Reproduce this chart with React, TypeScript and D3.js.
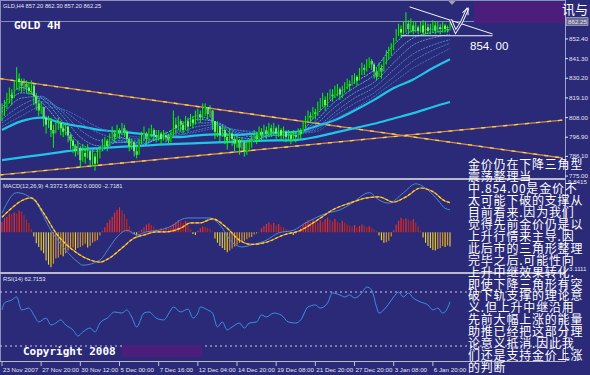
import React from 'react';
import * as d3 from 'd3';

// ---- price bars (GOLD H4), one entry per bar ----
const firstOpen = 808;
const closes = [
  810, 814, 818, 821, 819, 825, 830, 828, 826, 827,
  825, 823, 826, 820, 816, 812, 814, 808, 804, 806,
  801, 799, 803, 805, 802, 800, 803, 798, 795, 792,
  789, 791, 784, 788, 786, 789, 784, 786, 782, 786,
  790, 793, 795, 792, 796, 799, 797, 801, 799, 802,
  800, 796, 792, 794, 789, 787, 793, 797, 799, 796,
  799, 801, 798, 797, 799, 796, 798, 797, 795, 798,
  804, 802, 806, 804, 801, 806, 803, 807, 805, 808,
  810, 808, 812, 814, 810, 812, 806, 800, 803, 798,
  801, 797, 795, 799, 796, 793, 795, 791, 794, 789,
  791, 793, 795, 798, 796, 800, 798, 801, 799, 802,
  800, 802, 799, 801, 798, 800, 797, 798, 796, 798,
  797, 800, 799, 803, 806, 809, 808, 811, 810, 814,
  816, 818, 815, 819, 821, 820, 822, 824, 821, 823,
  825, 827, 826, 829, 831, 829, 833, 836, 835, 838,
  840, 838, 834, 831, 836, 834, 839, 842, 845, 847,
  851, 855, 858, 856, 859, 861, 858, 860, 857, 859,
  857, 860, 856, 859, 857, 858, 860, 857, 859, 858,
  860, 858, 857.2, 862.25,
];
const highs = [
  816, 818, 822, 825, 824, 829, 836.5, 833, 830, 830,
  829, 828, 829, 827, 822, 818, 817, 813, 809, 809,
  808, 804, 806, 808, 806, 804, 805, 801, 799, 796,
  793, 795, 792, 793, 791, 793, 790, 790, 788, 790,
  792, 796, 797, 796, 799, 803, 801, 804, 802, 805,
  804, 801, 797, 796, 795, 792, 796, 800, 803, 800,
  802, 804, 802, 801, 801, 800, 801, 800, 799, 801,
  812, 808, 809, 807, 806, 809, 808, 810, 809, 812,
  813, 812, 816, 816, 814, 815, 812, 806, 806, 803,
  804, 802, 799, 802, 800, 797, 798, 796, 797, 794,
  795, 796, 798, 801, 800, 803, 802, 804, 803, 805,
  804, 805, 803, 804, 802, 803, 801, 801, 800, 801,
  800, 802, 802, 806, 809, 812, 811, 814, 813, 817,
  819, 822, 820, 822, 824, 824, 826, 827, 825, 826,
  828, 830, 829, 832, 833, 832, 836, 839, 838, 841,
  842, 841, 839, 836, 839, 838, 842, 846, 848, 850,
  853, 858, 861, 860, 862, 867.5, 863, 864, 862, 862,
  860, 862, 863, 862, 861, 861, 863, 862, 862, 861,
  862, 861, 860, 862.3,
];
const lows = [
  806, 809, 813, 816, 815, 819, 824, 823, 822, 823,
  822, 821, 821, 815, 812, 809, 810, 803, 799, 802,
  797, 791, 799, 801, 798, 797, 798, 794, 790, 788,
  786, 787, 780, 783, 782, 785, 780, 781, 778, 783,
  785, 789, 791, 789, 792, 795, 794, 797, 796, 798,
  797, 794, 789, 790, 786, 785, 787, 793, 795, 793,
  795, 797, 795, 794, 795, 793, 795, 794, 793, 794,
  797, 799, 801, 800, 799, 801, 800, 803, 802, 804,
  806, 805, 807, 809, 807, 808, 801, 796, 797, 794,
  797, 793, 790, 794, 792, 789, 791, 787, 790, 786,
  787, 789, 791, 794, 793, 795, 795, 797, 796, 798,
  797, 798, 796, 797, 795, 796, 794, 795, 793, 795,
  794, 796, 796, 799, 802, 805, 805, 807, 807, 809,
  812, 814, 812, 814, 818, 817, 819, 820, 818, 819,
  822, 824, 823, 826, 827, 826, 829, 832, 832, 834,
  836, 835, 830, 829, 831, 830, 834, 838, 841, 843,
  846, 851, 854, 853, 855, 856, 855, 856, 855, 856,
  855, 856, 854.5, 855, 855, 855, 856, 855, 856, 855,
  856, 856, 856, 857.2,
];

// ---- moving averages, read at every 8th bar ----
const maIdx = [0, 8, 16, 24, 32, 40, 48, 56, 64, 72, 80, 88, 96, 104, 112, 120, 128, 136, 144, 152, 160, 168, 176, 183];
const ma1 = [813, 825, 817, 804, 790, 789, 797, 792, 797, 803, 809, 804, 795, 796, 799, 798, 809, 820, 828, 835, 849, 857, 858, 859];
const ma2 = [811, 822, 819, 807, 793, 790, 795, 793, 796, 801, 807, 805, 797, 796, 798, 798, 806, 817, 825, 832, 844, 853, 856, 857];
const ma3 = [809, 819, 820, 810, 797, 792, 794, 794, 796, 800, 805, 805, 799, 797, 798, 798, 804, 814, 822, 828, 839, 849, 853, 855];
const ma4 = [807, 815, 819, 812, 801, 795, 794, 795, 796, 799, 803, 804, 800, 798, 798, 799, 802, 811, 819, 825, 835, 844, 849, 852];
const ma5 = [805, 812, 817, 813, 805, 799, 796, 796, 796, 798, 801, 803, 801, 799, 798, 799, 801, 809, 816, 822, 831, 840, 846, 850];
const ma6 = [803, 809, 814, 813, 808, 802, 799, 797, 797, 798, 800, 802, 801, 800, 799, 799, 800, 807, 813, 820, 828, 836, 842, 847];
const maSlow = [801, 806, 808, 805, 803, 801, 800, 799, 797.5, 797, 798, 798.5, 798.2, 799, 799.5, 800, 803, 806.6, 812, 818, 824.7, 829.5, 836, 841];
const maSlowest = [784, 785.5, 787, 788.5, 790, 790.8, 791.5, 792, 792.7, 793.2, 793.6, 794, 794.4, 794.8, 795.1, 795.3, 797, 799.5, 802, 804.5, 807.5, 810.5, 814, 816.8];

// ---- drawn objects (bar index, price) ----
const trendUpper = [[-1, 830], [229, 785.2]];
const trendLower = [[-1, 775.6], [229, 806.6]];
const triTop = [[166.5, 870.5], [200.4, 855.2]];
const triBase = [[163, 854.2], [200.4, 854.2]];
const arrowPts = [[183.2, 863.3], [185.3, 856.6], [187.7, 861.8], [190.3, 869.8]];

// ---- MACD(12,26,9) ----
const macdHist = [
  2.0, 2.7, 3.0, 3.6, 3.5, 3.8, 3.6, 4.2, 4.0, 3.3,
  2.5, 1.8, 0.6, -0.8, -2.1, -2.8, -3.5, -4.0, -5.4, -6.2,
  -6.7, -6.0, -5.0, -4.8, -4.3, -4.6, -4.0, -3.5, -3.2, -2.9,
  -3.4, -3.0, -2.8, -2.5, -2.2, -2.9, -2.6, -2.0, -1.7, -1.5,
  -0.6, 0.2, 1.0, 1.8, 2.4, 3.0, 3.8, 4.3, 4.8, 4.2,
  3.5, 2.6, 1.2, 0.4, -0.3, -0.6, 0.2, 0.5, 1.0, 1.5,
  1.7, 1.4, 1.1, 0.7, 0.5, 0.8, 0.6, 1.0, 0.7, 0.9,
  1.6, 2.0, 2.3, 2.1, 1.8, 2.2, 1.5, 0.6, -0.3, -0.5,
  0.3, 0.8, 1.1, 1.0, 0.9, 0.6, 0.2, -1.2, -2.0, -2.6,
  -3.0, -3.4, -3.8, -3.5, -3.1, -2.7, -2.4, -2.0, -1.8, -1.6,
  -1.3, -1.0, -0.9, -0.4, -0.2, 0.1, 0.8, 1.2, 1.6, 1.9,
  1.5, 1.8, 1.3, 1.6, 1.1, 1.0, 0.7, 0.3, -0.3, -0.5,
  -0.2, 0.2, 0.8, 1.5, 2.0, 2.3, 2.0, 2.4, 2.2, 1.9,
  2.3, 2.0, 2.5, 2.8, 2.4, 2.1, 2.6, 2.0, 1.8, 2.2,
  1.9, 1.5, 1.3, 1.1, 1.4, 1.0, 1.2, 1.5, 1.3, 1.0,
  1.2, 0.9, 0.6, 0.2, -0.6, -1.5, -2.0, -1.9, -1.6, -0.8,
  0.4, 1.5, 2.2, 2.8, 2.5, 2.7, 2.4, 2.2, 2.5, 1.9,
  1.2, 0.3, -1.0, -2.0, -2.6, -3.0, -3.4, -3.5, -3.2, -3.0,
  -2.6, -2.8, -2.5, -2.7181,
];
const macdIdx = [0, 6, 13, 20, 26, 31, 33, 40, 44, 47, 51, 55, 59, 64, 70, 73, 76, 81, 85, 89, 94, 98, 102, 108, 113, 119, 124, 133, 138, 143, 150, 154, 158, 164, 169, 174, 178, 181, 183];
const macdMain = [3.7, 7.6, 6.2, 0.4, -3.4, -5.7, -6.3, -5.3, -2.8, -0.9, 0.4, -0.5, 0.1, 0.4, 1.4, 2.4, 2.75, 2.75, 2.75, 1.4, -1.9, -2.8, -2.4, -1.5, -0.1, 0.4, 1.8, 3.7, 4.3, 5.6, 7.6, 6.2, 5.6, 7.6, 9.3, 8.1, 6.2, 4.6, 4.3372];
const signalIdx = [0, 12, 17, 22, 29, 36, 40, 44, 49, 54, 58, 63, 67, 73, 77, 81, 86, 92, 97, 102, 108, 115, 122, 129, 135, 142, 149, 154, 160, 165, 171, 176, 181, 183];
const macdSignal = [2.9, 6.6, 3.7, -0.1, -3.4, -5.3, -5.7, -4.9, -3.0, -1.1, -0.5, 0.1, 0.1, 0.8, 1.8, 1.8, 2.6, 0.8, -1.5, -2.3, -1.9, -0.5, 0.4, 2.4, 4.3, 5.6, 6.6, 6.8, 5.8, 6.8, 8.5, 7.8, 6.0, 5.6962];

// ---- RSI(14) ----
const rsiIdx = [0, 1, 4, 6, 8, 11, 13, 15, 18, 20, 22, 24, 26, 29, 31, 33, 36, 38, 40, 43, 46, 49, 51, 53, 55, 58, 60, 63, 66, 69, 70, 73, 76, 78, 80, 81, 84, 86, 88, 90, 92, 94, 97, 99, 101, 104, 106, 108, 111, 114, 117, 120, 122, 125, 128, 130, 133, 135, 138, 140, 142, 144, 147, 149, 151, 153, 154, 157, 160, 162, 164, 166, 168, 171, 174, 176, 178, 180, 182, 183];
const rsiVals = [56.7, 61.9, 64.1, 66.3, 56.7, 58.1, 53, 47.8, 50.7, 45.6, 47, 49.3, 45.6, 41.9, 37.4, 40.4, 43.3, 40.4, 47, 50.7, 55.2, 54.4, 56.7, 51.5, 44.1, 54.4, 55.2, 50.7, 49.3, 56.7, 58.9, 55.2, 57.4, 50.7, 54.4, 58.9, 56.7, 54.4, 44.1, 47.8, 41.9, 44.1, 47, 43.3, 47, 47.8, 53, 51.5, 54.4, 53, 47.8, 47, 49.3, 58.9, 60.4, 58.1, 61.9, 69.3, 67.8, 66.3, 67.8, 65.6, 69.3, 73.7, 71.5, 58.9, 54.4, 58.9, 66.3, 70, 66.3, 69.3, 65.6, 62.6, 60.4, 56.7, 58.1, 54.4, 58.1, 62.7];
const rsiLevels = [70, 30];

// ---- axes ----
const priceTicks = [852.4, 841.3, 830.2, 819.1, 808.0, 796.9, 786.1, 775.0];
const lastPrice = 862.25;
const timeLabels = ['23 Nov 2007', '27 Nov 20:00', '30 Nov 12:00', '5 Dec 00:00', '7 Dec 16:00', '12 Dec 04:00', '14 Dec 20:00', '19 Dec 08:00', '21 Dec 20:00', '27 Dec 20:00', '3 Jan 08:00', '6 Jan 20:00'];
const barsPerLabel = 16;

const noteLines = [
  '金价仍在下降三角型',
  '震荡整理当',
  '中.854.00是金价不',
  '太可能下破的支撑从',
  '目前看来.因为我们',
  '觉得先前金价仍是以',
  '上升行情来主导.因',
  '此后市的三角形整理',
  '完毕之后.可能性向',
  '上升中继效果转化.',
  '即使下降三角形有突',
  '破下轨支撑的理论意',
  '义.但上升中继沿用',
  '先前大幅上涨的能量',
  '助推已经把这部分理',
  '论意义抵消.因此我',
  '们还是支持金价上涨',
  '的判断',
];

const BG = '#2a2a79';
const SEP = '#b9b9cc';
const AXIS_TXT = '#e4e4ee';
const small = { fontFamily: "'Liberation Sans', Arial, sans-serif", fontSize: 6.2, fill: AXIS_TXT };

export default function App() {
  const W = 590;
  const H = 375;
  const plotR = 565;

  const x = d3.scaleLinear().domain([0, 183]).range([2, 450]);
  const yP = d3.scaleLinear().domain([773.9, 872.7]).range([178, 3]);
  const yM = d3.scaleLinear().domain([-7.6, 9.8415]).range([272, 181]);
  const yR = d3.scaleLinear().domain([30, 70]).range([346, 292]);

  const maPath = (vals: number[]) =>
    d3.line<number>().x((_, k) => x(maIdx[k])).y((v) => yP(v)).curve(d3.curveMonotoneX)(vals) || '';
  const ptPath = d3.line<number[]>().x((d) => x(d[0])).y((d) => yP(d[1]));
  const idxPath = (idx: number[], vals: number[], ys: d3.ScaleLinear<number, number>) =>
    d3.line<number>().x((_, k) => x(idx[k])).y((v) => ys(v)).curve(d3.curveMonotoneX)(vals) || '';

  const thinColors = ['#64c8f0', '#55b6e8', '#4aa4de', '#4294d4', '#3b86ca', '#3679c0'];
  const thin = [ma1, ma2, ma3, ma4, ma5, ma6];

  // arrow head at the end of the zigzag
  const aEnd = arrowPts[arrowPts.length - 1];
  const aPrev = arrowPts[arrowPts.length - 2];
  const ex = x(aEnd[0]);
  const ey = yP(aEnd[1]);
  const ang = Math.atan2(ey - yP(aPrev[1]), ex - x(aPrev[0]));
  const hl = 7;
  const head = [
    [ex, ey],
    [ex - hl * Math.cos(ang - 0.45), ey - hl * Math.sin(ang - 0.45)],
    [ex - hl * Math.cos(ang + 0.45), ey - hl * Math.sin(ang + 0.45)],
  ];

  return (
    <svg width={W} height={H} style={{ position: 'absolute', left: 0, top: 0, display: 'block' }}>
      <defs>
        <clipPath id="cp-price"><rect x={0} y={3} width={plotR} height={175} /></clipPath>
        <clipPath id="cp-macd"><rect x={0} y={180} width={plotR} height={92} /></clipPath>
        <clipPath id="cp-rsi"><rect x={0} y={274} width={plotR} height={87} /></clipPath>
      </defs>
      <rect x={0} y={0} width={W} height={H} fill={BG} />
      <rect x={0.5} y={0.5} width={plotR} height={361} fill="none" stroke="#8d8db8" strokeWidth={1} />

      {/* ---------- price panel ---------- */}
      <g clipPath="url(#cp-price)">
        <line x1={0} x2={plotR} y1={yP(lastPrice)} y2={yP(lastPrice)} stroke="#8290b0" strokeWidth={1} />
        {[trendUpper, trendLower].map((t, k) => (
          <g key={k}>
            <path d={ptPath(t) || ''} fill="none" stroke="#d98a44" strokeWidth={1.3} />
            <path d={ptPath(t) || ''} fill="none" stroke="#f2d84a" strokeWidth={1.3} strokeDasharray="4,7" />
          </g>
        ))}
        <path d={maPath(maSlowest)} fill="none" stroke="#1fc6e6" strokeWidth={2.2} />
        <path d={maPath(maSlow)} fill="none" stroke="#1fc6e6" strokeWidth={2.2} />
        {thin.map((vals, k) => (
          <path key={k} d={maPath(vals)} fill="none" stroke={thinColors[k]} strokeWidth={1} strokeDasharray="2,1" strokeOpacity={0.9} />
        ))}
        {closes.map((c, i) => {
          const o = i === 0 ? firstOpen : closes[i - 1];
          const cx = x(i);
          const top = yP(Math.max(o, c));
          const bot = yP(Math.min(o, c));
          return (
            <g key={i}>
              <rect x={cx - 0.9} y={top} width={1.8} height={Math.max(bot - top, 0.8)}
                fill={c >= o ? '#0d430d' : '#f4fff0'} />
              <line x1={cx} x2={cx} y1={Math.min(yP(highs[i]), top)} y2={Math.max(yP(lows[i]), bot)} stroke="#00ff00" strokeWidth={1} />
            </g>
          );
        })}
        <path d={ptPath(triTop) || ''} fill="none" stroke="#f4f4ff" strokeWidth={1} />
        <path d={ptPath(triBase) || ''} fill="none" stroke="#f4f4ff" strokeWidth={1.2} />
        <path d={ptPath(arrowPts) || ''} fill="none" stroke="#f4f4ff" strokeWidth={3} strokeLinejoin="miter" />
        <path d={ptPath(arrowPts) || ''} fill="none" stroke={BG} strokeWidth={1.1} strokeLinejoin="miter" />
        <path d={`M${head[1][0]},${head[1][1]}L${head[0][0]},${head[0][1]}L${head[2][0]},${head[2][1]}`} fill="none" stroke="#f4f4ff" strokeWidth={1.1} />
      </g>
      <rect x={474} y={2} width={plotR - 474} height={21} fill="#4b1e7b" />
      <path d="M448.5,1 L455.5,1 L452,5 Z" fill="#a0a0b4" />
      <text x={3} y={8} style={{ ...small, fontSize: 5.8 }}>GLD,H4  857.20 862.30 857.20 862.25</text>
      <text x={14} y={29} fontFamily="'DejaVu Sans Mono', monospace" fontWeight="bold" fontSize={11} fill="#ffffff">GOLD 4H</text>
      <text x={470} y={50} fontFamily="'Liberation Sans', Arial, sans-serif" fontSize={11.5} fill="#ffffff">854. 00</text>

      {/* ---------- separators ---------- */}
      <rect x={0} y={178} width={plotR} height={2} fill={SEP} />
      <rect x={0} y={272} width={plotR} height={2} fill={SEP} />
      <line x1={0} x2={plotR} y1={361.5} y2={361.5} stroke={SEP} strokeWidth={1} />
      <line x1={plotR + 0.5} x2={plotR + 0.5} y1={0} y2={362} stroke="#a0a0c8" strokeWidth={1} />

      {/* ---------- MACD panel ---------- */}
      <g clipPath="url(#cp-macd)">
        {macdHist.map((v, i) => {
          const prev = i === 0 ? 0 : macdHist[i - 1];
          const col = v >= 0 ? (v >= prev ? '#ff2b1c' : '#c2261c') : (v <= prev ? '#f2d424' : '#df9a1c');
          return <line key={i} x1={x(i)} x2={x(i)} y1={yM(0)} y2={yM(v)} stroke={col} strokeWidth={1.1} />;
        })}
        <path d={idxPath(macdIdx, macdMain, yM)} fill="none" stroke="#4e88d2" strokeWidth={1} />
        <path d={idxPath(signalIdx, macdSignal, yM)} fill="none" stroke="#e0902c" strokeWidth={1.2} />
        <path d={idxPath(signalIdx, macdSignal, yM)} fill="none" stroke="#f6d632" strokeWidth={1.2} strokeDasharray="3,2" />
      </g>
      <text x={3} y={188} style={{ ...small, fontSize: 5.8 }}>MACD(12,26,9) 4.3372 5.6962 0.0000 -2.7181</text>

      {/* ---------- RSI panel ---------- */}
      <g clipPath="url(#cp-rsi)">
        {rsiLevels.map((lv) => (
          <line key={lv} x1={0} x2={plotR} y1={yR(lv)} y2={yR(lv)} stroke="#d8c4e4" strokeWidth={1} strokeDasharray="2,3" />
        ))}
        <path d={idxPath(rsiIdx, rsiVals, yR)} fill="none" stroke="#3a92e2" strokeWidth={1} />
      </g>
      <text x={3} y={281} style={{ ...small, fontSize: 5.8 }}>RSI(14) 62.7153</text>
      <rect x={122} y={345} width={80} height={12} fill="#4b1e7b" />
      <text x={23} y={355} fontFamily="'DejaVu Sans Mono', monospace" fontWeight="bold" fontSize={11} fill="#ffffff">Copyright 2008</text>

      {/* ---------- right axis ---------- */}
      {priceTicks.map((p) => (
        <g key={p}>
          <line x1={plotR} x2={plotR + 3} y1={yP(p)} y2={yP(p)} stroke={AXIS_TXT} strokeWidth={1} />
          <text x={plotR + 4} y={yP(p) + 2} style={small}>{p.toFixed(2)}</text>
        </g>
      ))}
      <rect x={plotR + 1} y={yP(lastPrice) - 3.8} width={22} height={7.6} fill="#6b6b92" stroke="#c8c8dc" strokeWidth={0.6} />
      <text x={plotR + 3} y={yP(lastPrice) + 2} style={small}>{lastPrice.toFixed(2)}</text>
      <text x={plotR + 3} y={184} style={small}>9.8415</text>
      <text x={plotR + 4} y={271} style={small}>3.1111</text>
      <text x={plotR + 1} y={361} style={small}>0</text>
      <text x={562} y={14} fontFamily="'Noto Sans CJK SC', sans-serif" fontSize={13} fill="#ffffff">讯与</text>

      {/* ---------- time axis ---------- */}
      {timeLabels.map((t, k) => {
        const tx = x(k * barsPerLabel);
        return (
          <g key={t}>
            <line x1={tx} x2={tx} y1={362} y2={366} stroke={AXIS_TXT} strokeWidth={0.8} />
            <text x={tx + 1} y={372} style={small}>{t}</text>
          </g>
        );
      })}

      {/* ---------- note ---------- */}
      {noteLines.map((s, k) => (
        <text key={k} x={468} y={169 + k * 11.95} fontFamily="'Noto Sans CJK SC', sans-serif" fontSize={12} letterSpacing={0.8} fill="#ffffff">{s}</text>
      ))}
    </svg>
  );
}
